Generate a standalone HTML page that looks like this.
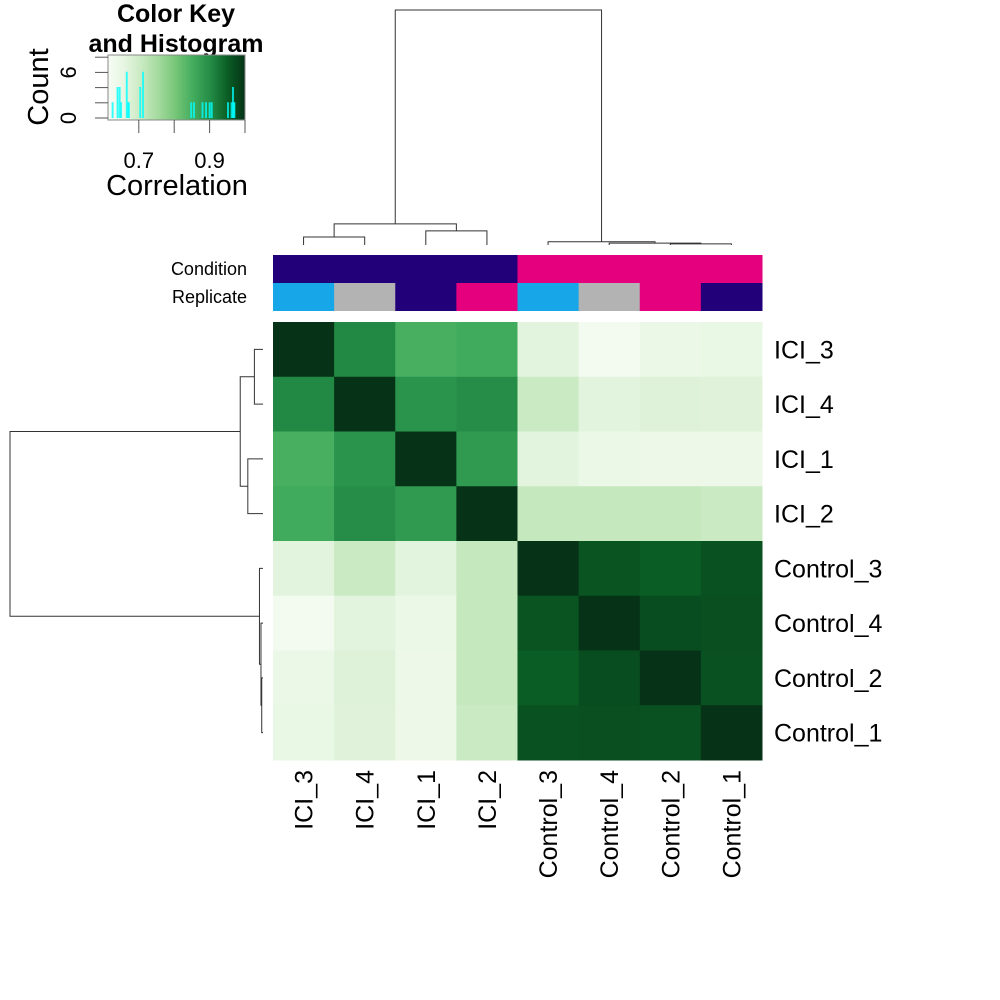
<!DOCTYPE html>
<html><head><meta charset="utf-8"><style>
html,body{margin:0;padding:0;background:#fff;}
svg{display:block;font-family:"Liberation Sans",Arial,sans-serif;}
</style></head><body>
<svg id="chart" width="1000" height="1000" viewBox="0 0 1000 1000">
<defs>
<linearGradient id="keygrad" x1="0" x2="1" y1="0" y2="0">
<stop offset="0" stop-color="#f7fcf5"/><stop offset="0.125" stop-color="#e5f5e0"/><stop offset="0.25" stop-color="#c7e9c0"/><stop offset="0.375" stop-color="#a1d99b"/><stop offset="0.5" stop-color="#74c476"/><stop offset="0.625" stop-color="#41ab5d"/><stop offset="0.75" stop-color="#238b45"/><stop offset="0.875" stop-color="#0a5d24"/><stop offset="1" stop-color="#063317"/>
</linearGradient>
</defs>
<g id="key">
<text x="176" y="22" text-anchor="middle" font-size="25" font-weight="bold">Color Key</text>
<text x="176" y="52" text-anchor="middle" font-size="25" font-weight="bold">and Histogram</text>
<rect x="108" y="55" width="137" height="65" fill="url(#keygrad)" stroke="#888" stroke-width="1"/>
<text x="177" y="195" text-anchor="middle" font-size="29">Correlation</text>
<text transform="translate(48,87) rotate(-90)" text-anchor="middle" font-size="29">Count</text>
</g>
<g id="top-dendro"></g>
<g id="left-dendro"></g>
<g id="annot">
<text x="247" y="275" text-anchor="end" font-size="18">Condition</text>
<text x="247" y="303" text-anchor="end" font-size="18">Replicate</text>
</g>
<g id="cells"></g>
<g id="labels"></g>
</svg>
<script>
const labels = ["ICI_3","ICI_4","ICI_1","ICI_2","Control_3","Control_4","Control_2","Control_1"];
const condition = ["ICI","ICI","ICI","ICI","Control","Control","Control","Control"];
const replicate = ["3","4","1","2","3","4","2","1"];
const corr = [
 [1.000,0.905,0.848,0.855,0.665,0.625,0.645,0.650],
 [0.905,1.000,0.890,0.900,0.705,0.665,0.672,0.670],
 [0.848,0.890,1.000,0.880,0.665,0.645,0.640,0.640],
 [0.855,0.900,0.880,1.000,0.712,0.712,0.712,0.705],
 [0.665,0.705,0.665,0.712,1.000,0.962,0.952,0.965],
 [0.625,0.665,0.645,0.712,0.962,1.000,0.970,0.968],
 [0.645,0.672,0.640,0.712,0.952,0.970,1.000,0.966],
 [0.650,0.670,0.640,0.705,0.965,0.968,0.966,1.000]];
const mergeLeft = [0,2,"m0",6,5,4,"m2"];
const mergeRight = [1,3,"m1",7,"m3","m4","m5"];
const mergeHeight = [0.034,0.060,0.090,0.005,0.008,0.014,1.0];
const keyTicks = [0.7,0.8,0.9,1.0];
const keyTickLabels = ["0.7","","0.9",""];
const countTicks = [0,2,4,6,8];
const countTickLabels = ["0","","","6",""];

const NS="http://www.w3.org/2000/svg";
function mk(tag,attrs,parent){const e=document.createElementNS(NS,tag);for(const k in attrs)e.setAttribute(k,attrs[k]);parent.appendChild(e);return e;}
const HX0=273,HX1=762,HY0=322,HY1=760,n=labels.length;
const cw=(HX1-HX0)/n, ch=(HY1-HY0)/n;
const xc=i=>HX0+cw*(i+0.5), yc=i=>HY0+ch*(i+0.5);
const VMIN=0.613,VMAX=1.0;
const pal=["#f7fcf5","#e5f5e0","#c7e9c0","#a1d99b","#74c476","#41ab5d","#238b45","#0a5d24","#063317"];
function hex(c){return [1,3,5].map(i=>parseInt(c.substr(i,2),16));}
function color(v){let t=Math.max(0,Math.min(1,(v-VMIN)/(VMAX-VMIN)))*(pal.length-1);let i=Math.min(Math.floor(t),pal.length-2),f=t-i;const a=hex(pal[i]),b=hex(pal[i+1]);return "rgb("+a.map((x,k)=>Math.round(x+(b[k]-x)*f)).join(",")+")";}
const cells=document.getElementById("cells");
for(let r=0;r<n;r++)for(let c=0;c<n;c++){
 const e=mk("rect",{x:HX0+cw*c,y:HY0+ch*r,width:cw+0.5,height:ch+0.5,fill:color(corr[r][c])},cells);
 
 
}
const lab=document.getElementById("labels");
for(let i=0;i<n;i++){
 const t=mk("text",{x:774,y:yc(i)+9,"font-size":25},lab);t.textContent=labels[i];
 
 
 const u=mk("text",{transform:"translate("+(xc(i)+9)+",770) rotate(-90)","text-anchor":"end","font-size":25},lab);u.textContent=labels[i];
 
 
}
const condCol={ICI:"#22007a",Control:"#e5007d"};
const repCol={"1":"#22007a","2":"#e5007d","3":"#17a6e8","4":"#b3b3b3"};
const an=document.getElementById("annot");
for(let i=0;i<n;i++){
 const a=mk("rect",{x:HX0+cw*i,y:255,width:cw+0.5,height:28,fill:condCol[condition[i]]},an);
 
 
 const b=mk("rect",{x:HX0+cw*i,y:283,width:cw+0.5,height:28,fill:repCol[replicate[i]]},an);
 
 
}
function pos(node,leafPos,nodes){return typeof node==="number"?{p:leafPos(node),h:0}:nodes[+node.slice(1)];}
function drawDendro(g,leafPos,hmap,vertical){
 const nodes=[];
 for(let m=0;m<mergeHeight.length;m++){
  const a=pos(mergeLeft[m],leafPos,nodes),b=pos(mergeRight[m],leafPos,nodes),H=hmap(mergeHeight[m]);
  const ha=hmap(a.h),hb=hmap(b.h);
  let d;
  if(vertical) d="M"+a.p+","+ha+"V"+H+"H"+b.p+"V"+hb;
  else d="M"+ha+","+a.p+"H"+H+"V"+b.p+"H"+hb;
  const e=mk("path",{d:d,fill:"none",stroke:"#333","stroke-width":1},g);
  
  
  nodes.push({p:(a.p+b.p)/2,h:mergeHeight[m]});
 }
}
drawDendro(document.getElementById("top-dendro"),xc,h=>245-h*235,true);
drawDendro(document.getElementById("left-dendro"),yc,h=>263-h*253,false);
const key=document.getElementById("key");
const kx=v=>108+(v-VMIN)/(VMAX-VMIN)*137, ky=c=>118-c*7.6;
const vals=[];for(let r=0;r<n;r++)for(let c=0;c<n;c++)if(r!==c)vals.push(corr[r][c]);
const bw=0.002,counts={};
vals.forEach(v=>{const b=Math.floor((v-VMIN)/bw);counts[b]=(counts[b]||0)+1;});
for(const b in counts){
 const x0=kx(VMIN+b*bw),x1=kx(VMIN+(+b+1)*bw);
 const e=mk("path",{d:"M"+x0+",118V"+ky(counts[b])+"H"+x1+"V118",fill:"none",stroke:"#00ffff","stroke-width":1.2,opacity:0.8},key);
 
 
}
keyTicks.forEach((v,i)=>{
 const t=mk("line",{x1:kx(v),x2:kx(v),y1:120,y2:133,stroke:"#555"},key);
 
 
 if(keyTickLabels[i]){const l=mk("text",{x:kx(v),y:168,"text-anchor":"middle","font-size":22},key);l.textContent=keyTickLabels[i];
 
 }
});
countTicks.forEach((c,i)=>{
 const t=mk("line",{x1:95,x2:108,y1:ky(c),y2:ky(c),stroke:"#555"},key);
 
 
 if(countTickLabels[i]){const l=mk("text",{transform:"translate(76,"+ky(c)+") rotate(-90)","text-anchor":"middle","font-size":22},key);l.textContent=countTickLabels[i];
 
 }
});
</script>
</body></html>
